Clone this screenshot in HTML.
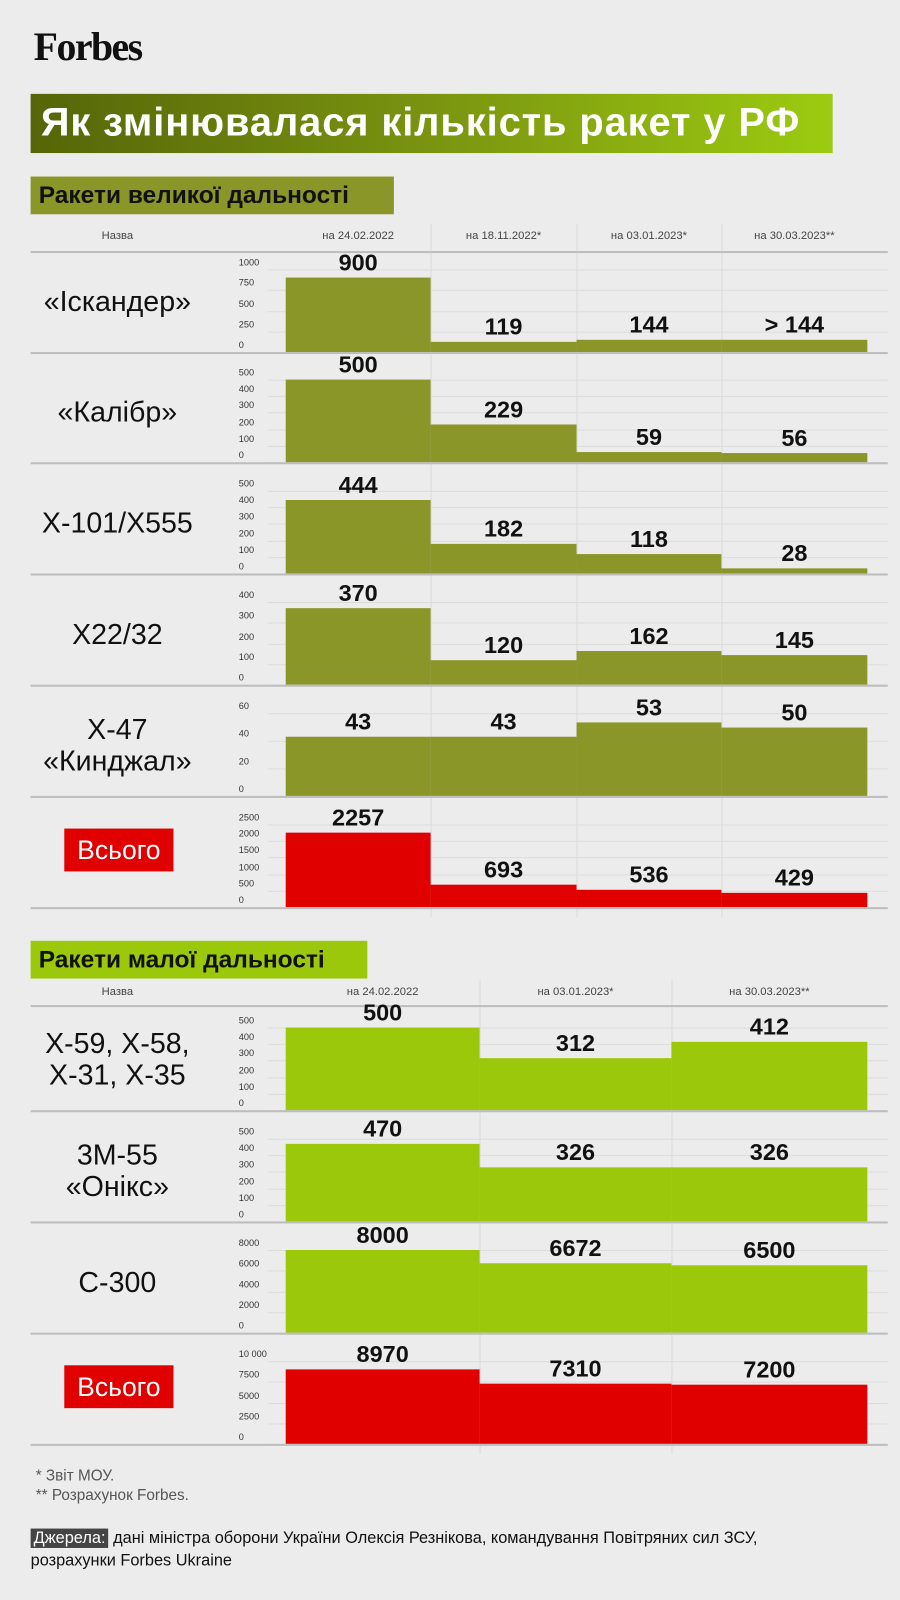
<!DOCTYPE html>
<html><head><meta charset="utf-8">
<style>
body{margin:0;width:900px;height:1600px;background:#ececec;overflow:hidden;font-family:"Liberation Sans Narrow","Liberation Sans","DejaVu Sans",sans-serif;color:#111}
#w{position:absolute;left:0;top:0;width:882px;height:1568px;transform:scale(1.0204);transform-origin:0 0}
.a{position:absolute}
.logo{left:33px;top:24px;font-family:"Liberation Serif",serif;font-weight:bold;font-size:39px;letter-spacing:-1.5px;color:#111}
.title{left:30px;top:92px;width:786px;height:58px;background:linear-gradient(90deg,#556508 0%,#7a9410 50%,#9ccb10 100%);color:#fff;font-weight:bold;font-size:39px;line-height:58px;padding-left:10px;box-sizing:border-box;font-family:"Liberation Sans",sans-serif;letter-spacing:0.9px;white-space:nowrap}
.sec{height:37px;font-size:24px;line-height:37px;padding-left:8px;box-sizing:border-box;font-family:"Liberation Sans",sans-serif;font-weight:bold}
.hd{font-size:11px;color:#444;text-align:center}
.line{height:2px;background:#bdbdbd}
.grid{height:1px;background:#dcdcdc}
.vs{width:1px;background:#dadada}
.tk{font-size:9px;color:#333;left:234px}
.val{font-size:23px;font-weight:bold;text-align:center;font-family:"Liberation Sans",sans-serif}
.lab{font-size:28px;text-align:center;width:200px;left:15px;line-height:31px;font-family:"Liberation Sans",sans-serif}
.tot{background:#e00000;color:#fff;font-size:26px;line-height:42px;text-align:center;font-family:"Liberation Sans",sans-serif}
.fn{font-size:15px;color:#555;left:35px}
</style></head><body><div id="w">
<div class="a logo">Forbes</div>
<div class="a title">Як змінювалася кількість ракет у РФ</div>
<div class="a sec" style="left:30px;top:173px;width:356px;background:#8a9628">Ракети великої дальності</div>
<div class="a sec" style="left:30px;top:922px;width:330px;background:#9bc80a">Ракети малої дальності</div>
<div class="a fn" style="top:1438px">* Звіт МОУ.</div>
<div class="a fn" style="top:1457px">** Розрахунок Forbes.</div>
<div class="a" style="left:30px;top:1497px;font-size:16px;line-height:22px;width:840px;font-family:'Liberation Sans',sans-serif;color:#111"><span style="background:#444;color:#fff;padding:1px 3px">Джерела:</span> дані міністра оборони України Олексія Резнікова, командування Повітряних сил ЗСУ,<br>розрахунки Forbes Ukraine</div>
</div>
<script>
var W=document.getElementById('w');
function add(cls,st,txt){var d=document.createElement('div');d.className='a '+cls;d.style.cssText=st;if(txt!=null)d.innerHTML=txt;W.appendChild(d);return d;}
function section(cfg){
  var cols=cfg.cols;
  add('hd','left:65px;top:'+cfg.hy+'px;width:100px','Назва');
  for(var i=0;i<cols.length-1;i++){
    add('hd','left:'+cols[i]+'px;top:'+cfg.hy+'px;width:'+(cols[i+1]-cols[i])+'px',cfg.heads[i]);
    if(i>0) add('vs','left:'+cols[i]+'px;top:'+(cfg.hy-6)+'px;height:'+(cfg.rows[cfg.rows.length-1].b-cfg.hy+16)+'px');
  }
  add('line','left:30px;top:'+cfg.lineY+'px;width:840px');
  cfg.rows.forEach(function(r){
    var H=81,bot=r.b,top=bot-H,n=r.ticks.length;
    for(var k=0;k<n;k++){
      var y=top+H*k/(n-1);
      add('grid','left:262px;top:'+Math.round(y)+'px;width:608px');
      add('tk','top:'+Math.round(y-12)+'px',r.ticks[k]);
    }
    for(var i=0;i<r.v.length;i++){
      var h=r.v[i]/r.max*H;
      add('','left:'+cols[i]+'px;top:'+(bot-h)+'px;width:'+(cols[i+1]-cols[i])+'px;height:'+h+'px;background:'+r.c);
      add('val','left:'+cols[i]+'px;top:'+(bot-h-28)+'px;width:'+(cols[i+1]-cols[i])+'px',r.t?r.t[i]:r.v[i]);
    }
    add('line','left:30px;top:'+bot+'px;width:840px');
    if(r.total) add('tot','left:'+r.tl+'px;top:'+(bot-77)+'px;width:'+r.tw+'px;height:42px','Всього');
    else add('lab','top:'+(bot-50-r.lab.length*15.5)+'px',r.lab.join('<br>'));
  });
}
var O='#8a9628',G='#9bc80a',R='#e00000';
section({cols:[280,422,565,707,850],hy:225,lineY:246,heads:['на 24.02.2022','на 18.11.2022*','на 03.01.2023*','на 30.03.2023**'],
rows:[
{b:345,max:1000,ticks:[1000,750,500,250,0],v:[900,119,144,144],t:['900','119','144','&gt; 144'],c:O,lab:['«Іскандер»']},
{b:453,max:500,ticks:[500,400,300,200,100,0],v:[500,229,59,56],c:O,lab:['«Калібр»']},
{b:562,max:500,ticks:[500,400,300,200,100,0],v:[444,182,118,28],c:O,lab:['Х-101/Х555']},
{b:671,max:400,ticks:[400,300,200,100,0],v:[370,120,162,145],c:O,lab:['Х22/32']},
{b:780,max:60,ticks:[60,40,20,0],v:[43,43,53,50],c:O,lab:['Х-47','«Кинджал»']},
{b:889,max:2500,ticks:[2500,2000,1500,1000,500,0],v:[2257,693,536,429],c:R,total:1,tl:63,tw:107}
]});
section({cols:[280,470,658,850],hy:966,lineY:985,heads:['на 24.02.2022','на 03.01.2023*','на 30.03.2023**'],
rows:[
{b:1088,max:500,ticks:[500,400,300,200,100,0],v:[500,312,412],c:G,lab:['Х-59, Х-58,','Х-31, Х-35']},
{b:1197,max:500,ticks:[500,400,300,200,100,0],v:[470,326,326],c:G,lab:['3М-55','«Онікс»']},
{b:1306,max:8000,ticks:[8000,6000,4000,2000,0],v:[8000,6672,6500],c:G,lab:['С-300']},
{b:1415,max:10000,ticks:['10 000',7500,5000,2500,0],v:[8970,7310,7200],c:R,total:1,tl:63,tw:107}
]});
</script>
</body></html>
